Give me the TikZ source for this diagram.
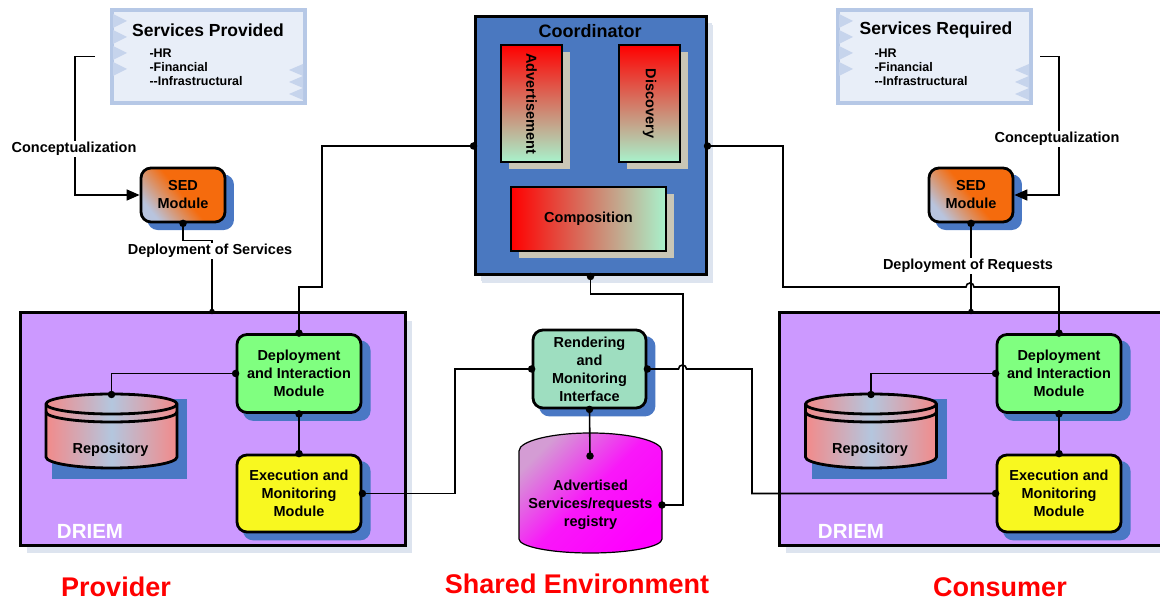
\documentclass[tikz,border=0pt]{standalone}
\usepackage{fontspec}
\setmainfont{Liberation Sans}
\usetikzlibrary{arrows.meta,calc,shadows}

\definecolor{svcfill}{HTML}{E8EEF8}
\definecolor{svcedge}{HTML}{B6C8E6}
\definecolor{svctri}{HTML}{C6D4EC}
\definecolor{coordblue}{HTML}{4A78C0}
\definecolor{shadowblue}{HTML}{4A78C4}
\definecolor{paleshadow}{HTML}{DDE4EF}
\definecolor{beige}{HTML}{C9C6B6}
\definecolor{lav}{HTML}{CC99FF}
\definecolor{depgreen}{HTML}{80FF80}
\definecolor{exeyellow}{HTML}{F8F820}
\definecolor{rmimint}{HTML}{9EDEC0}
\definecolor{mint}{HTML}{A8F2CC}
\definecolor{sedorange}{HTML}{F56B0D}
\definecolor{sedpale}{HTML}{B8C4DE}
\definecolor{repopink}{HTML}{F28A8A}
\definecolor{repoblue}{HTML}{B4C6DE}
\definecolor{regmag}{HTML}{FF00FF}
\definecolor{regpale}{HTML}{D49CD4}
\definecolor{titlered}{HTML}{FF0000}

\begin{document}
\begin{tikzpicture}[x=1pt,y=-1pt,
  conn/.style={line width=1.6pt, black},
  arrowconn/.style={conn, -{Triangle[length=13pt,width=11pt]}},
  dot/.style={circle, fill=black, inner sep=0pt, minimum size=7.5pt},
  lbl/.style={font=\fontsize{14.5}{18}\selectfont\bfseries, align=center},
  linelbl/.style={lbl, fill=white, inner sep=1.5pt},
  svcbox/.style={draw=svcedge, line width=4pt, fill=svcfill,
    minimum width=193pt, minimum height=93pt, inner sep=0pt},
  svctitle/.style={font=\fontsize{17.5}{20}\selectfont\bfseries},
  svclist/.style={font=\fontsize{12.5}{14}\selectfont\bfseries, align=left, anchor=west},
  blueshadow/.style={general shadow={fill=shadowblue, shadow xshift=7.5pt,
    shadow yshift=-7pt, shadow scale=1.03}},
  module/.style={lbl, draw=black, line width=2.8pt, rounded corners=10pt,
    inner sep=2pt, blueshadow},
  sedmod/.style={module, minimum width=84pt, minimum height=54pt,
    top color=sedorange, bottom color=sedpale, middle color=sedorange,
    shading angle=-50},
  drmod/.style={module, minimum width=124pt, minimum height=78pt},
  subbox/.style={draw=black, line width=2.8pt, inner sep=0pt,
    general shadow={fill=beige, shadow xshift=8pt, shadow yshift=-7pt}},
  container/.style={draw=black, line width=3pt, inner sep=0pt,
    general shadow={fill=paleshadow, shadow xshift=7pt, shadow yshift=-8pt}},
  drlabel/.style={font=\fontsize{20.5}{22}\selectfont\bfseries, text=white},
  title/.style={font=\fontsize{27}{30}\selectfont\bfseries, text=titlered, inner sep=0pt}
]
\useasboundingbox (0,0) rectangle (1160,601);

% ---------- service description boxes ----------
\node[svcbox] (sp) at (208.5,56.5) {};
\node[svcbox] (sr) at (934.5,56.5) {};
\foreach \bx in {112,838}{
  \foreach \ty in {14,30,46,62}
    \fill[svctri] (\bx+1,\ty) -- (\bx+15,\ty+7) -- (\bx+1,\ty+14) -- cycle;
  \foreach \ty in {64,76,88}
    \fill[svctri] (\bx+191,\ty) -- (\bx+177,\ty+6) -- (\bx+191,\ty+12) -- cycle;
}
\node[svctitle] (spt) at (208,30) {Services Provided};
\node[svclist] (spl) at (146,67.5) {-HR\\-Financial\\-{}-Infrastructural};
\node[svctitle] (srt) at (936,30) {Services Required};
\node[svclist] (srl) at (871,67.5) {-HR\\-Financial\\-{}-Infrastructural};

% ---------- coordinator ----------
\node[container, fill=coordblue, minimum width=231pt, minimum height=258pt,
  general shadow={fill=paleshadow, shadow xshift=6pt, shadow yshift=-6pt}]
  (coord) at (590.5,146) {};
\node[font=\fontsize{18}{20}\selectfont\bfseries] (coordt) at (590,31) {Coordinator};
\node[subbox, minimum width=61pt, minimum height=117pt,
  top color=red, bottom color=mint] (adv) at (531.5,103.5) {};
\node[lbl, rotate=-90] (advt) at (adv) {Advertisement};
\node[subbox, minimum width=61pt, minimum height=117pt,
  top color=red, bottom color=mint] (disc) at (649.5,103.5) {};
\node[lbl, rotate=-90] (disct) at (disc) {Discovery};
\node[subbox, minimum width=155pt, minimum height=64pt,
  left color=red, right color=mint, lbl] (comp) at (588.5,219) {Composition};

% ---------- DRIEM containers ----------
\node[container, fill=lav, minimum width=385pt, minimum height=232pt] (driemL) at (212.5,429) {};
\node[container, fill=lav, minimum width=391pt, minimum height=232pt] (driemR) at (974.5,429) {};
\node[drlabel] (dlL) at (90,531) {DRIEM};
\node[drlabel] (dlR) at (851,531) {DRIEM};

\node[drmod, fill=depgreen] (depL) at (299,373.5) {Deployment\\and Interaction\\Module};
\node[drmod, fill=exeyellow, minimum height=77pt] (exeL) at (299,493.5) {Execution and\\Monitoring\\Module};
\node[drmod, fill=depgreen] (depR) at (1059,373.5) {Deployment\\and Interaction\\Module};
\node[drmod, fill=exeyellow, minimum height=77pt] (exeR) at (1059,493.5) {Execution and\\Monitoring\\Module};

% repositories (cylinders)
\foreach \cx/\nm in {111.5/L,871/R}{
  \fill[shadowblue] (\cx-59.5,399) rectangle (\cx+75.5,479);
  \path[draw=black, line width=2.8pt, left color=repopink, right color=repopink, middle color=repoblue]
    (\cx-65.5,404) -- (\cx-65.5,457)
    arc[start angle=180, end angle=0, x radius=65.5, y radius=11]
    -- (\cx+65.5,404)
    arc[start angle=0, end angle=-180, x radius=65.5, y radius=10] -- cycle;
  \draw[line width=2.8pt] (\cx-65.5,404) arc[start angle=180, end angle=0, x radius=65.5, y radius=10];
  \draw[line width=2.8pt] (\cx-65.5,412) arc[start angle=180, end angle=0, x radius=65.5, y radius=10];
  \coordinate (repoTop\nm) at (\cx,394.5);
  \node[lbl] (repo\nm) at (\cx-1,450) {Repository};
}

% ---------- SED modules ----------
\node[sedmod] (sedL) at (183,195) {SED\\Module};
\node[sedmod] (sedR) at (971,195) {SED\\Module};

% ---------- shared environment ----------
\node[drmod, fill=rmimint, minimum width=113pt, minimum height=78pt] (rmi) at (589.5,369)
  {Rendering\\and\\Monitoring\\Interface};
\path[draw=black, line width=1.2pt,
  top color=regpale, bottom color=regmag, middle color=regmag!85!regpale, shading angle=45]
  (519,451) -- (519,539)
  arc[start angle=180, end angle=0, x radius=71.5, y radius=14]
  -- (662,451)
  arc[start angle=0, end angle=-180, x radius=71.5, y radius=18] -- cycle;
\coordinate (regE) at (662,505);
\coordinate (regDot) at (590,456);
\node[lbl] (reg) at (590.5,505) {Advertised\\Services/requests\\registry};

% ---------- connectors ----------
\draw[arrowconn] ([xshift=-15pt]sp.west) -- (75,56.5) |- (sedL.west);
\draw[arrowconn] ([xshift=7pt]sr.east) -- (1059,56.5) |- (sedR.east);
\draw[conn] (sedL.south) -- ++(0,17) -| ([xshift=-0.5pt]driemL.north);
\draw[conn] (sedR.south) -- (sedR.south |- driemR.north);
\draw[conn] (coord.west) -| (322,287) -| (depL.north);
\draw[conn] (coord.east) -| (783,287) -- (966,287)
  arc[start angle=180, end angle=360, radius=4] -| (depR.north);
\draw[conn] (coord.south) |- (683,294) |- (regE);
\draw[conn] (rmi.west) -| (455,493.5) -- (exeL.east);
\draw[conn] (rmi.east) -- (678.5,369)
  arc[start angle=180, end angle=360, radius=4] -| (752,493.5) -- (exeR.west);
\draw[conn] (rmi.south) -- (regDot);
\draw[conn] (depL.west) -| (repoTopL);
\draw[conn] (depL.south) -- (exeL.north);
\draw[conn] (depR.west) -| (repoTopR);
\draw[conn] (depR.south) -- (exeR.north);

% connection points
\foreach \p in {sedL.south, sedR.south, coord.west, coord.east, coord.south,
  depL.north, depR.north, depL.west, depR.west, depL.south, depR.south,
  exeL.north, exeR.north, exeL.east, exeR.west, rmi.west, rmi.east, rmi.south,
  regE, regDot, repoTopL, repoTopR}
  \node[dot] at (\p) {};
\node[dot, minimum size=5.5pt] at ([xshift=-0.5pt]driemL.north) {};
\node[dot, minimum size=5.5pt] at (sedR.south |- driemR.north) {};

% connector labels
\node[linelbl] (cL) at (74,149) {Conceptualization};
\node[linelbl] (cR) at (1057,139) {Conceptualization};
\node[linelbl] (dsL) at (210,251) {Deployment of Services};
\node[linelbl] (drR) at (968,266) {Deployment of Requests};

% ---------- region titles ----------
\node[title] (tProv) at (116,587) {Provider};
\node[title] (tShared) at (577,584) {Shared Environment};
\node[title] (tCons) at (1000,587) {Consumer};
\end{tikzpicture}
\end{document}
